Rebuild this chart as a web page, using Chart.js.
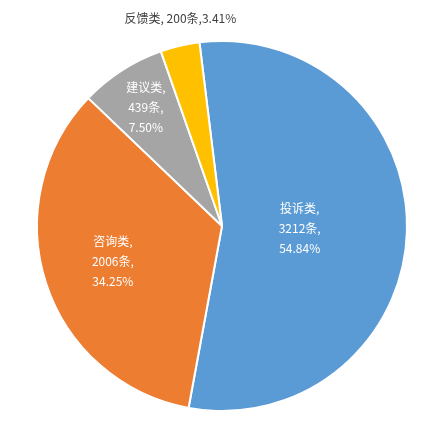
<!DOCTYPE html>
<html>
<head>
<meta charset="utf-8">
<script src="https://cdn.jsdelivr.net/npm/chart.js@4"></script>
<style>
  html, body { margin: 0; padding: 0; background: #fff; }
</style>
</head>
<body>
<canvas id="pie" width="444" height="428"></canvas>
<script>
// Categories and values
const CATEGORIES = ["投诉类", "咨询类", "建议类", "反馈类"];
const COUNTS     = [3212, 2006, 439, 200];
const PERCENTS   = ["54.84%", "34.25%", "7.50%", "3.41%"];
const COLORS     = ["#5b9bd5", "#ed7d31", "#a5a5a5", "#ffc000"];

// Label placement as fraction of outer radius
const LABEL_RADIUS = [0.42, 0.62, 0.76, 1.13];

// ---- Draws data labels on / next to each slice ----
const sliceLabels = {
    id: "sliceLabels",
    afterDatasetsDraw(chart) {
        const ctx = chart.ctx;
        const arcs = chart.getDatasetMeta(0).data;
        ctx.save();
        ctx.font = '12px "Microsoft YaHei", "Noto Sans CJK SC", sans-serif';
        ctx.textAlign = "center";
        ctx.textBaseline = "middle";
        arcs.forEach((arc, i) => {
            const mid = (arc.startAngle + arc.endAngle) / 2;
            const r = arc.outerRadius * LABEL_RADIUS[i];
            const x = arc.x + Math.cos(mid) * r;
            const y = arc.y + Math.sin(mid) * r;
            if (i === 3) {
                // small slice: single line, outside, dark text
                ctx.fillStyle = "#404040";
                ctx.fillText(`${CATEGORIES[i]}, ${COUNTS[i]}条,${PERCENTS[i]}`, x + 6, y - 4);
            } else {
                ctx.fillStyle = "#ffffff";
                const lines = [`${CATEGORIES[i]},`, `${COUNTS[i]}条,`, `${PERCENTS[i]}`];
                lines.forEach((t, k) => ctx.fillText(t, x, y + (k - 1) * 20));
            }
        });
        ctx.restore();
    }
};

new Chart(document.getElementById("pie").getContext("2d"), {
    type: "pie",
    data: {
        labels: CATEGORIES,
        datasets: [{
            data: COUNTS,
            backgroundColor: COLORS,
            borderColor: "#ffffff",
            borderWidth: 2
        }]
    },
    options: {
        responsive: false,
        animation: false,
        rotation: -7,
        layout: { padding: { top: 40, bottom: 16 } },
        plugins: {
            legend: { display: false },
            tooltip: { enabled: false }
        }
    },
    plugins: [sliceLabels]
});
</script>
</body>
</html>
